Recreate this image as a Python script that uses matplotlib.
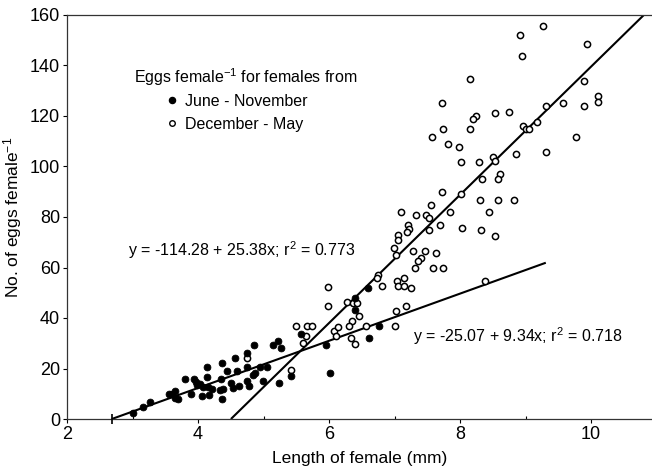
import numpy as np
import matplotlib
matplotlib.use("Agg")
import matplotlib.pyplot as plt
from matplotlib.lines import Line2D

plt.rcParams['font.family'] = ['Liberation Sans', 'DejaVu Sans']
plt.rcParams['mathtext.fontset'] = 'custom'
plt.rcParams['mathtext.rm'] = 'Liberation Sans'
plt.rcParams['mathtext.it'] = 'Liberation Sans:italic'
plt.rcParams['mathtext.default'] = 'regular'

# June - November females: length (mm), eggs per female
jun_nov_len = [3.01, 3.16, 3.27, 3.55, 3.60, 3.65, 3.65, 3.70, 3.80, 3.89,
               3.94, 3.97, 3.98, 4.03, 4.06, 4.08, 4.13, 4.14, 4.16, 4.21,
               4.17, 4.34, 4.36, 4.35, 4.38, 4.36, 4.44, 4.51, 4.56, 4.60,
               4.54, 4.63, 4.75, 4.75, 4.75, 4.78, 4.84, 4.87, 4.94, 4.99,
               5.05, 4.85, 5.14, 5.22, 5.27, 5.23, 5.42, 5.58, 5.96, 6.02,
               6.39, 6.39, 6.60, 6.61, 6.76]
jun_nov_eggs = [2.2, 4.9, 6.7, 9.9, 9.9, 11.2, 8.2, 7.8, 15.8, 9.9,
                15.7, 14.8, 13.5, 13.9, 9.1, 12.8, 20.5, 16.8, 12.8, 12.0,
                9.5, 11.5, 22.3, 15.7, 11.7, 7.9, 19.1, 14.1, 24.0, 19.1,
                12.2, 13.1, 26.0, 20.7, 15.2, 13.2, 17.4, 18.3, 20.5, 15.2,
                20.5, 29.3, 29.3, 31.0, 28.0, 14.3, 17.1, 33.5, 29.3, 18.1,
                47.8, 43.2, 52.0, 32.0, 37.0]

# December - May females: length (mm), eggs per female
dec_may_len = [4.75, 5.42, 5.50, 5.67, 5.74, 5.65, 5.60, 5.99, 5.99, 6.07,
               6.13, 6.10, 6.28, 6.37, 6.43, 6.46, 6.35, 6.31, 6.33, 6.40,
               6.56, 7.01, 7.03, 7.18, 6.75, 6.73, 6.81, 7.04, 7.15, 7.06,
               7.15, 7.25, 7.05, 7.06, 6.99, 7.03, 7.28, 7.46, 7.64, 7.41,
               7.36, 7.31, 7.59, 7.74, 8.38, 7.81, 7.98, 8.02, 8.29, 8.50,
               8.53, 8.61, 8.58, 8.33, 7.73, 8.02, 8.30, 8.58, 8.82, 7.56,
               7.85, 8.44, 7.10, 7.33, 7.48, 7.52, 7.21, 7.22, 7.19, 7.52,
               7.70, 8.03, 8.32, 8.53, 9.26, 8.92, 9.94, 8.95, 9.90, 10.11,
               10.11, 9.90, 9.57, 9.31, 8.53, 8.75, 8.96, 9.00, 9.05, 9.17,
               9.77, 9.31, 8.85, 8.16, 7.72, 8.24, 8.20, 7.74, 8.15, 7.57]
dec_may_eggs = [24.3, 19.4, 37.0, 37.0, 37.0, 32.9, 30.0, 52.1, 44.8, 35.0,
                36.3, 33.0, 46.2, 45.8, 45.8, 40.8, 38.9, 37.0, 32.0, 29.7,
                36.8, 36.8, 42.9, 44.8, 57.0, 55.7, 52.7, 54.8, 56.0, 52.8,
                52.8, 52.0, 72.8, 71.0, 67.6, 64.9, 66.7, 66.7, 65.9, 63.6,
                62.6, 59.7, 59.7, 59.7, 54.8, 108.9, 107.8, 101.9, 101.9, 103.9,
                102.2, 97.0, 94.9, 94.9, 89.8, 89.1, 86.7, 86.7, 86.7, 84.8,
                81.8, 81.8, 81.8, 80.6, 80.6, 79.5, 76.7, 75.1, 74.1, 74.9,
                76.7, 75.6, 74.9, 72.6, 155.8, 151.9, 148.6, 143.6, 134.0, 127.9,
                125.7, 123.8, 125.0, 123.8, 121.1, 121.7, 116.0, 115.0, 115.0, 117.8,
                111.6, 105.9, 104.8, 134.7, 125.0, 120.0, 118.7, 114.9, 114.9, 111.7]

# Fitted regressions: intercept, slope, r^2 and the length range covered
fit_dec_may = (-114.28, 25.38, 0.773)
fit_jun_nov = (-25.07, 9.34, 0.718)
range_dec_may = (-fit_dec_may[0] / fit_dec_may[1], 10.95)
range_jun_nov = (-fit_jun_nov[0] / fit_jun_nov[1], 9.31)

x_ticks = [2, 4, 6, 8, 10]
y_ticks = [0, 20, 40, 60, 80, 100, 120, 140, 160]

fig = plt.figure(figsize=(6.52, 4.67), dpi=100)
ax = fig.add_axes([67 / 652, 1 - 419 / 467, 1 - 67 / 652, (419 - 15) / 467])

ax.set_xlim(2, 2 + (652 - 67) / 65.5)
ax.set_ylim(0, 160)

# regression lines
for (a, b, _), (x0, x1) in [(fit_dec_may, range_dec_may), (fit_jun_nov, range_jun_nov)]:
    xs = np.array([x0, x1])
    ax.plot(xs, a + b * xs, color='black', lw=1.5, solid_capstyle='butt', zorder=2)
ax.plot([range_jun_nov[0]], [0], marker='|', color='black', ms=7, mew=1.2,
        clip_on=False, zorder=3)

ax.scatter(jun_nov_len, jun_nov_eggs, s=24, facecolor='black', edgecolor='black',
           linewidths=0.6, zorder=4)
ax.scatter(dec_may_len, dec_may_eggs, s=20, facecolor='white', edgecolor='black',
           linewidths=1.1, zorder=3)

# equations
ax.text(2.93, 66.9, "y = -114.28 + 25.38x; r$^2$ = %.3f" % fit_dec_may[2],
        fontsize=11.5, va='center', ha='left')
ax.text(7.28, 32.9, "y = -25.07 + 9.34x; r$^2$ = %.3f" % fit_jun_nov[2],
        fontsize=11.5, va='center', ha='left')

# key: heading plus indented entries
ax.text(0.1145, 0.847, 'Eggs female$^{-1}$ for females from', transform=ax.transAxes,
        fontsize=11.5, ha='left', va='center')
handles = [
    Line2D([], [], ls='none', marker='o', ms=4.4, mfc='black', mec='black'),
    Line2D([], [], ls='none', marker='o', ms=4.0, mfc='white', mec='black', mew=1.0),
]
ax.legend(handles, ['June - November', 'December - May'],
          loc='upper left', bbox_to_anchor=(0.1685, 0.805),
          frameon=False, fontsize=11.5, borderpad=0, borderaxespad=0,
          handlelength=0.8, handletextpad=0.42, labelspacing=0.5)

ax.set_xticks(x_ticks)
ax.set_xticks([3, 5, 7, 9], minor=True)
ax.set_yticks(y_ticks)
ax.tick_params(axis='both', which='major', labelsize=13, length=3, width=0.8,
               direction='out', pad=2)
ax.tick_params(axis='x', which='minor', length=2.5, width=0.8, direction='in')

for side in ['left', 'bottom', 'top']:
    ax.spines[side].set_linewidth(0.9)
    ax.spines[side].set_color('#333333')
ax.spines['right'].set_visible(False)

ax.set_xlabel('Length of female (mm)', fontsize=12.5, labelpad=6)
ax.set_ylabel('No. of eggs female$^{-1}$', fontsize=12.5, labelpad=4)

fig.savefig('out.png', dpi=100)
